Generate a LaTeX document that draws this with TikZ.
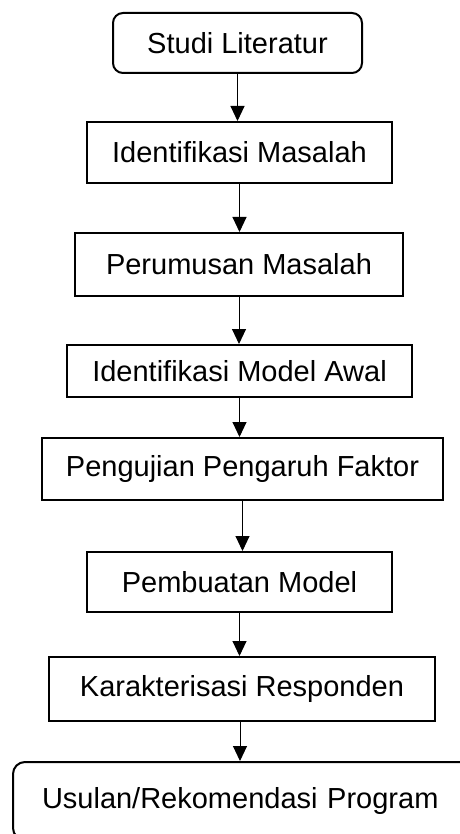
\documentclass[tikz,border=0pt]{standalone}
\usepackage{fontspec}
\setmainfont{Liberation Sans}
\usetikzlibrary{arrows.meta}

\tikzset{
  stepbox/.style={draw, line width=2pt, inner sep=0pt, align=center,
    font=\fontsize{29pt}{34pt}\selectfont},
  endbox/.style={stepbox, rounded corners=10pt},
  flow/.style={line width=1pt, -{Triangle[length=15pt,width=14pt]}}
}

\begin{document}
\begin{tikzpicture}[x=1pt, y=-1pt]
  \useasboundingbox (0,0) rectangle (459,834);

  \node[endbox, minimum width=249pt, minimum height=60pt] (s1) at (237.5,43) {Studi Literatur};
  \node[stepbox, minimum width=305pt, minimum height=61pt] (s2) at (239.5,152.5) {Identifikasi Masalah};
  \node[stepbox, minimum width=328pt, minimum height=63pt] (s3) at (239,264.5) {Perumusan Masalah};
  \node[stepbox, minimum width=345pt, minimum height=52pt] (s4) at (239.5,371) {Identifikasi Model Awal};
  \node[stepbox, minimum width=401pt, minimum height=62pt] (s5) at (242.5,469) {Pengujian Pengaruh Faktor};
  \node[stepbox, minimum width=305pt, minimum height=60pt] (s6) at (239.5,582) {Pembuatan Model};
  \node[stepbox, minimum width=386pt, minimum height=64pt] (s7) at (242,689) {Karakterisasi Responden};
  % the last box runs past the right and bottom edges of the page
  \node[endbox, rounded corners=12pt, minimum width=474pt, minimum height=78pt,
        text width=474pt, align=left] (s8) at (250,801)
        {\hspace*{29pt}\raisebox{4pt}{Usulan/Rekomendasi Program}};

  \foreach \a/\b in {s1/s2, s2/s3, s3/s4, s4/s5, s5/s6, s6/s7}
    \draw[flow] (\a.south) -- (\a.south |- \b.north);
  \draw[flow] (s7.south) ++(-2pt,0) coordinate (s7out) -- (s7out |- s8.north);
\end{tikzpicture}
\end{document}
